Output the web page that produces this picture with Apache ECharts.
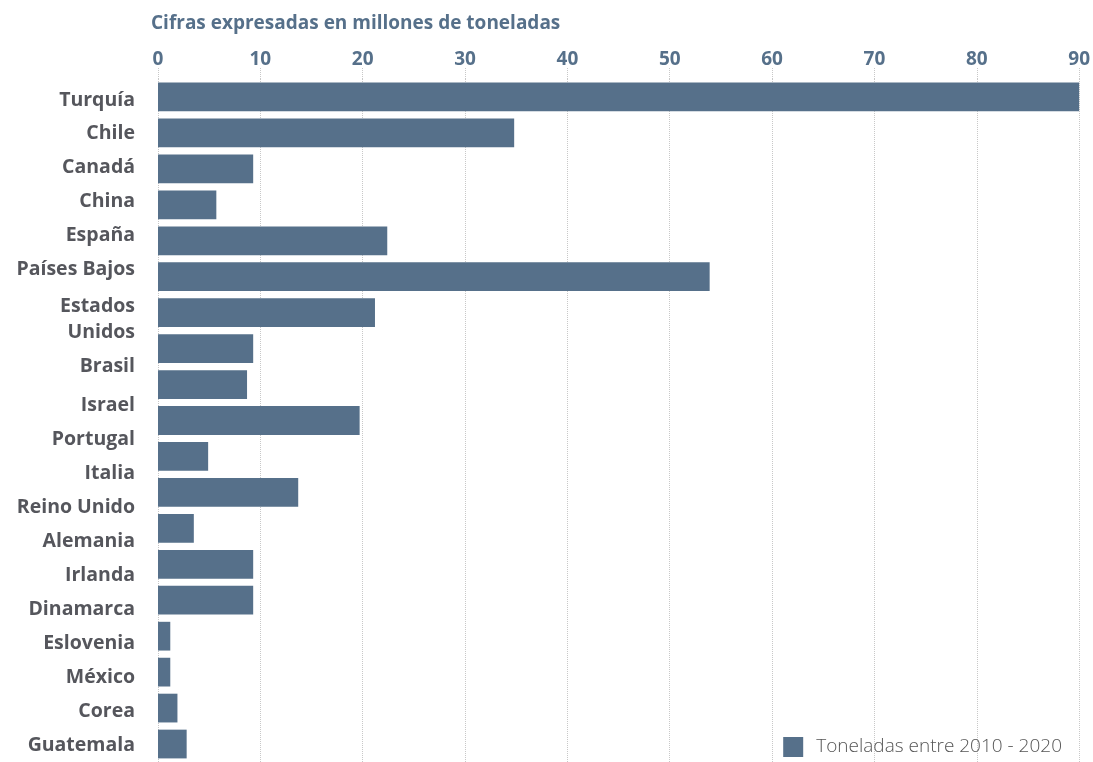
<!DOCTYPE html>
<html>
<head>
<meta charset="utf-8">
<script src="https://cdn.jsdelivr.net/npm/echarts@6/dist/echarts.min.js"></script>
<style>
html,body{margin:0;padding:0;background:#fff;}
#chart{width:1093px;height:762px;}
</style>
</head>
<body>
<div id="chart"></div>
<script>
const categories = ["Turquía","Chile","Canadá","China","España","Países Bajos","Estados\nUnidos","Brasil","Israel","Portugal","Italia","Reino Unido","Alemania","Irlanda","Dinamarca","Eslovenia","México","Corea","Guatemala"];
const values = [90, 34.8, 9.3, 5.7, 22.4, 53.9, 21.2, 9.3, 8.7, 19.7, 4.9, 13.7, 3.5, 9.3, 9.3, 1.2, 1.2, 1.9, 2.8];
const seriesName = "Toneladas entre 2010 - 2020";
const titleText = "Cifras expresadas en millones de toneladas";

// label lines as laid out in the reference (two-line names take two rows)
const labelLines = [];
categories.forEach(function(c){ c.split('\n').forEach(function(l){ labelLines.push(l); }); });

const labelFont = {fontFamily:'Open Sans', fontWeight:'bold', fontSize:19.5, color:'#55565c'};

const chart = echarts.init(document.getElementById('chart'), null, {renderer:'canvas'});
chart.setOption({
  animation:false,
  title:{
    text:titleText,
    left:146, top:9,
    textStyle:{fontFamily:'Open Sans', fontWeight:'bold', fontSize:19, color:'#56708a'}
  },
  legend:{
    right:31, bottom:5, padding:0,
    itemWidth:20, itemHeight:20,
    icon:'rect',
    textStyle:{fontFamily:'Open Sans', fontSize:19, color:'#555', fontWeight:300, padding:[0,0,0,8]},
    data:[seriesName]
  },
  grid:[
    {left:158, top:79, width:923, height:690},
    {left:158, top:83, width:923, height:697}
  ],
  xAxis:[{
    type:'value', position:'top', min:0, max:90, interval:10, gridIndex:0,
    axisLine:{show:false},
    axisTick:{show:true, length:11, lineStyle:{color:'#c8c8c8', type:'dotted'}},
    axisLabel:{margin:10, fontFamily:'Open Sans', fontWeight:'bold', fontSize:19, color:'#56708a'},
    splitLine:{show:true, lineStyle:{color:'#c8c8c8', type:'dotted'}}
  },{
    type:'value', gridIndex:1, min:0, max:1, show:false
  }],
  yAxis:[{
    type:'category', inverse:true, data:categories, gridIndex:0,
    axisLine:{show:false}, axisTick:{show:false}, axisLabel:{show:false}
  },{
    type:'category', inverse:true, data:labelLines, gridIndex:1,
    axisLine:{show:false}, axisTick:{show:false}, splitLine:{show:false},
    axisLabel:Object.assign({
      margin:23, interval:0,
      formatter:function(v){
        if (v === 'Estados') return '{dn|'+v+'}';
        if (v === 'Unidos' || v === 'Brasil') return '{up|'+v+'}';
        return v;
      },
      rich:{
        dn:Object.assign({padding:[5,0,0,0]}, labelFont),
        up:Object.assign({padding:[0,0,10,0]}, labelFont)
      }
    }, labelFont)
  }],
  series:[{
    name:seriesName, type:'bar', data:values,
    xAxisIndex:0, yAxisIndex:0,
    barCategoryGap:'20%',
    itemStyle:{color:'#56708a'}
  }]
});
</script>
</body>
</html>
